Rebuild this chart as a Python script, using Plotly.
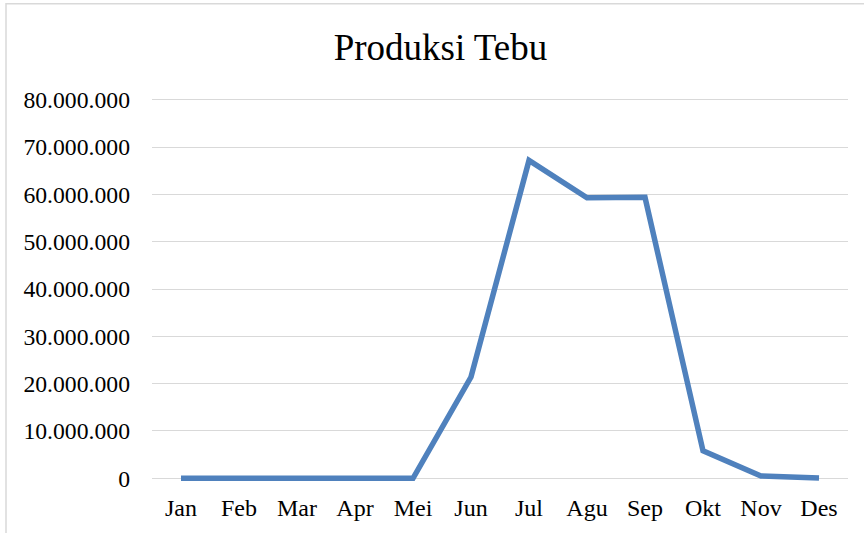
import plotly.graph_objects as go

months = ["Jan", "Feb", "Mar", "Apr", "Mei", "Jun", "Jul", "Agu", "Sep", "Okt", "Nov", "Des"]
produksi = [0, 0, 0, 0, 0, 21400000, 67200000, 59300000, 59400000, 5800000, 500000, 50000]
y_ticks = [0, 10000000, 20000000, 30000000, 40000000, 50000000, 60000000, 70000000, 80000000]

FONT = "Liberation Serif, Times New Roman, serif"

fig = go.Figure()
fig.add_trace(go.Scatter(
    x=months, y=produksi, mode="lines",
    line=dict(color="#4F81BD", width=5.5),
    showlegend=False,
))

L, R = 152, 848
y80, y0px = 100, 478
ppm = (y0px - y80) / 80e6
ymin, ymax = -1e6, 80.4e6
top_px = y80 - (ymax - 80e6) * ppm
bottom_px = y0px + (0 - ymin) * ppm

fig.update_layout(
    width=864, height=533,
    margin=dict(l=L, r=864 - R, t=top_px, b=533 - bottom_px, pad=0, autoexpand=False),
    paper_bgcolor="white", plot_bgcolor="white",
    separators=",.",
    title=dict(text="Produksi Tebu", x=440.5 / 864, xanchor="center", y=1 - 47 / 533, yanchor="middle",
               font=dict(family=FONT, size=37, color="#000000")),
    font=dict(family=FONT, size=23.7, color="#000000"),
    xaxis=dict(type="category", range=[-0.5, 11.5], automargin=False,
               showgrid=False, zeroline=False, showline=False,
               ticks="", tickfont=dict(family=FONT, size=24, color="#000000"),
               ticklabelstandoff=8),
    yaxis=dict(range=[ymin, ymax], tickvals=y_ticks, tickformat=",d", automargin=False,
               showgrid=True, gridcolor="#d9d9d9", gridwidth=1.3,
               zeroline=False, showline=False, ticks="",
               tickfont=dict(family=FONT, size=23.7, color="#000000"),
               ticklabelstandoff=21),
    shapes=[dict(type="rect", xref="paper", yref="paper",
                 x0=(6 - L) / (R - L), x1=1.2,
                 y0=-0.3, y1=(bottom_px - 4) / (bottom_px - top_px),
                 line=dict(color="#d9d9d9", width=1.5), layer="below")],
)

fig.write_html("out.html", config={"displayModeBar": False},
               post_script="document.body.style.margin='0';")
